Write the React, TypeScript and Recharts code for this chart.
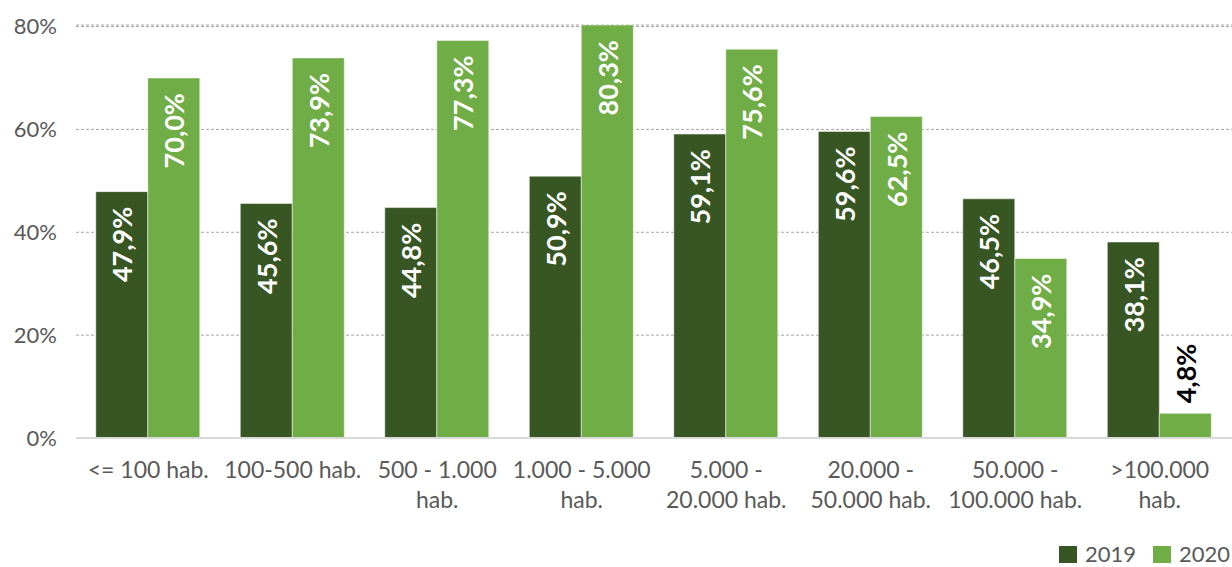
import React from "react";
import { BarChart, Bar, XAxis, YAxis, CartesianGrid } from "recharts";

const categories = [
  "<= 100 hab.",
  "100-500 hab.",
  "500 - 1.000 hab.",
  "1.000 - 5.000 hab.",
  "5.000 - 20.000 hab.",
  "20.000 - 50.000 hab.",
  "50.000 - 100.000 hab.",
  ">100.000 hab.",
];
const tickLines: string[][] = [
  ["<= 100 hab."],
  ["100-500 hab."],
  ["500 - 1.000", "hab."],
  ["1.000 - 5.000", "hab."],
  ["5.000 -", "20.000 hab."],
  ["20.000 -", "50.000 hab."],
  ["50.000 -", "100.000 hab."],
  [">100.000", "hab."],
];
const values2019 = [47.9, 45.6, 44.8, 50.9, 59.1, 59.6, 46.5, 38.1];
const values2020 = [70.0, 73.9, 77.3, 80.3, 75.6, 62.5, 34.9, 4.8];
const yTicks = [0, 20, 40, 60, 80];
const seriesNames = ["2019", "2020"];

const data = categories.map((c, i) => ({
  name: c,
  idx: i,
  v2019: values2019[i],
  v2020: values2020[i],
}));

const DARK = "#375623";
const LIGHT = "#70AD47";
const FONT = "Lato, 'Open Sans', sans-serif";
const GREY = "#595959";

const fmt = (v: number) => v.toFixed(1).replace(".", ",") + "%";

const renderLabel = (props: any) => {
  const { x, y, width, value } = props;
  const cx = Number(x) + Number(width) / 2;
  const top = Number(y);
  const v = Number(value);
  if (v < 10) {
    return (
      <text
        x={cx}
        y={top - 10}
        transform={`rotate(-90 ${cx} ${top - 10})`}
        textAnchor="start"
        dominantBaseline="central"
        fill="#000"
        fontFamily={FONT}
        fontWeight={700}
        fontSize={27}
      >
        {fmt(v)}
      </text>
    );
  }
  return (
    <text
      x={cx}
      y={top + 15}
      transform={`rotate(-90 ${cx} ${top + 15})`}
      textAnchor="end"
      dominantBaseline="central"
      fill="#fff"
      fontFamily={FONT}
      fontWeight={700}
      fontSize={27}
    >
      {fmt(v)}
    </text>
  );
};

const CatTick = (props: any) => {
  const { x, y, payload } = props;
  const lines = tickLines[payload.index] || [String(payload.value)];
  return (
    <text
      x={x}
      y={y}
      textAnchor="middle"
      fill={GREY}
      fontFamily={FONT}
      fontSize={23}
    >
      {lines.map((l, i) => (
        <tspan key={i} x={x} dy={i === 0 ? 32 : 30}>
          {l}
        </tspan>
      ))}
    </text>
  );
};

export default function App() {
  return (
    <div
      style={{
        position: "fixed",
        left: 0,
        top: 0,
        width: 1232,
        height: 567,
        overflow: "hidden",
        background: "#fff",
      }}
    >
      <BarChart
        width={1232}
        height={567}
        data={data}
        margin={{ top: 25, right: 0, left: 0, bottom: 49 }}
        barCategoryGap="13.7%"
        barGap={0}
      >
        <CartesianGrid
          vertical={false}
          stroke="#A6A6A6"
          strokeDasharray="3 2"
        />
        <XAxis
          dataKey="name"
          height={80}
          tickLine={false}
          axisLine={{ stroke: "#D9D9D9", strokeWidth: 2 }}
          tick={<CatTick />}
          interval={0}
        />
        <YAxis
          width={76}
          domain={[0, 80]}
          ticks={yTicks}
          tickFormatter={(v: number) => `${v}%`}
          axisLine={false}
          tickLine={false}
          tickMargin={13}
          tick={{
            fill: GREY,
            fontSize: 22,
            fontFamily: FONT,
          }}
        />
        <Bar
          dataKey="v2019"
          name={seriesNames[0]}
          fill={DARK}
          stroke="#ffffff"
          strokeWidth={0.5}
          isAnimationActive={false}
          label={renderLabel}
        />
        <Bar
          dataKey="v2020"
          name={seriesNames[1]}
          fill={LIGHT}
          stroke="#ffffff"
          strokeWidth={0.5}
          isAnimationActive={false}
          label={renderLabel}
        />
      </BarChart>
      <div
        style={{
          position: "absolute",
          left: 1059,
          top: 542,
          height: 24,
          display: "flex",
          alignItems: "center",
          whiteSpace: "nowrap",
          fontFamily: FONT,
          fontSize: 22,
          lineHeight: "24px",
          color: GREY,
        }}
      >
        {seriesNames.map((n, i) => (
          <span
            key={n}
            style={{ display: "inline-flex", alignItems: "center", marginRight: i === 0 ? 17 : 0 }}
          >
            <span
              style={{
                display: "inline-block",
                width: 18,
                height: 17,
                background: i === 0 ? DARK : LIGHT,
                marginRight: 8,
              }}
            />
            <span>{n}</span>
          </span>
        ))}
      </div>
    </div>
  );
}
